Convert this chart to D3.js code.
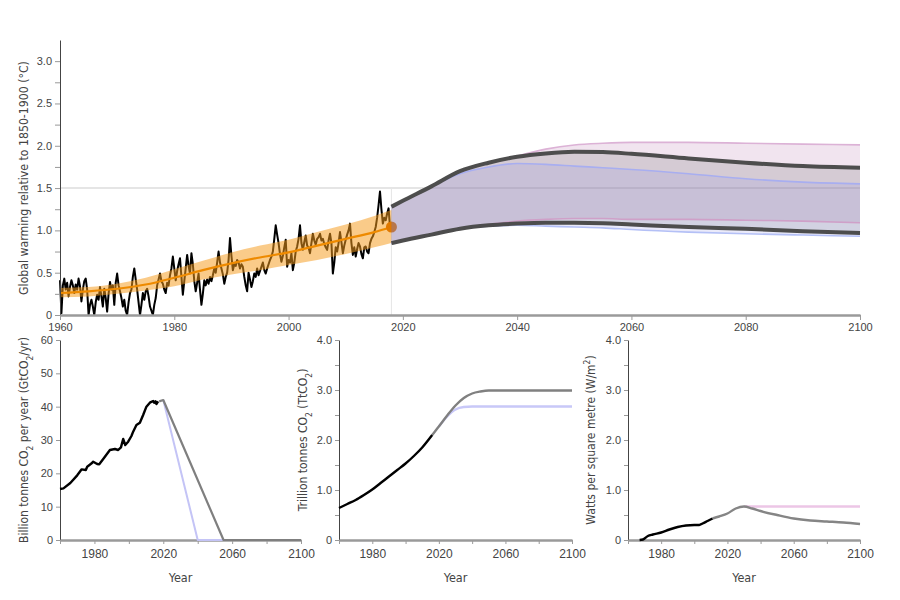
<!DOCTYPE html>
<html><head><meta charset="utf-8">
<script src="https://cdn.jsdelivr.net/npm/d3@7"></script>
<style>
body{margin:0;background:#fff}
text{font-family:"DejaVu Sans Condensed","Noto Sans",sans-serif;fill:#444}
.tick text{font-family:"Liberation Sans",Arial,sans-serif}
</style>
</head><body><svg id="c" width="900" height="600"></svg>
<script>
// ---------- DATA ----------
// observed warming, quarterly readings from 1960.00 to 2018.00 (one row per year)
const obsStart = 1960, obsStep = 0.25;
const obsTemp = [
0.41,0.02,0.35,0.43, 0.30,0.38,0.22,0.33, 0.41,0.35,0.26,0.36, 0.30,0.43,0.34,0.16, 0.30,0.40,0.43,0.30,
0.00,0.12,0.18,0.10, 0.00,0.15,0.24,0.18, 0.33,0.22,0.10,0.31, 0.20,0.04,0.25,0.39, 0.30,0.35,0.12,0.38,
0.49,0.35,0.28,0.20, 0.10,0.18,0.05,0.00, 0.15,0.26,0.30,0.45, 0.55,0.42,0.30,0.15, 0.00,0.12,0.26,0.18,
0.28,0.31,0.22,0.10, 0.05,0.00,0.12,0.20, 0.35,0.42,0.49,0.40, 0.37,0.30,0.26,0.38, 0.35,0.47,0.55,0.69,
0.55,0.41,0.52,0.60, 0.67,0.45,0.24,0.40, 0.55,0.71,0.58,0.49, 0.73,0.60,0.40,0.28, 0.38,0.49,0.30,0.12,
0.25,0.41,0.35,0.42, 0.37,0.45,0.40,0.47, 0.55,0.50,0.62,0.75, 0.62,0.55,0.48,0.37, 0.45,0.50,0.65,0.91,
0.70,0.53,0.60,0.58, 0.65,0.62,0.55,0.60, 0.57,0.45,0.35,0.28, 0.50,0.42,0.33,0.40, 0.49,0.45,0.55,0.47,
0.52,0.57,0.62,0.53, 0.49,0.55,0.60,0.65, 0.69,0.75,0.90,1.06, 0.95,0.85,0.72,0.63, 0.70,0.80,0.89,0.57,
0.65,0.62,0.73,0.53, 0.62,0.75,0.81,0.90, 1.06,0.85,0.77,0.86, 0.94,0.82,0.80,0.73, 0.85,0.96,0.88,0.83,
0.90,0.92,0.96,0.88, 0.90,0.84,0.80,0.77, 0.88,0.96,0.85,0.49, 0.62,0.80,0.75,0.85, 0.98,0.86,0.73,0.82,
0.89,0.95,1.00,1.08, 0.85,0.71,0.80,0.69, 0.78,0.85,0.81,0.72, 0.67,0.80,0.81,0.75, 0.73,0.85,0.90,0.93,
0.98,1.04,1.15,1.30, 1.46,1.25,1.08,1.15, 1.12,1.20,1.26,1.04,
1.00];

const trendYears = [1960,1965,1970,1975,1980,1985,1990,1995,2000,2005,2010,2015,2018];
const trendTemp  = [0.26,0.28,0.31,0.36,0.44,0.53,0.61,0.68,0.74,0.82,0.90,0.98,1.04];
const trendLow   = [0.21,0.22,0.25,0.29,0.34,0.42,0.48,0.53,0.59,0.65,0.72,0.80,0.85];
const trendHigh  = [0.32,0.33,0.37,0.44,0.54,0.64,0.74,0.82,0.89,0.98,1.07,1.17,1.24];

const projYears = [2018,2020,2025,2030,2035,2040,2045,2050,2055,2060,2070,2080,2090,2100];
const darkUpper = [1.28,1.35,1.52,1.70,1.80,1.87,1.91,1.93,1.925,1.905,1.85,1.80,1.76,1.74];
const darkLower = [0.85,0.88,0.95,1.02,1.06,1.08,1.09,1.09,1.085,1.07,1.04,1.02,0.99,0.97];
const pinkUpper = [1.28,1.35,1.52,1.70,1.80,1.88,1.96,2.01,2.03,2.04,2.04,2.03,2.02,2.01];
const pinkLower = [0.85,0.88,0.95,1.02,1.07,1.11,1.13,1.14,1.14,1.13,1.13,1.12,1.11,1.09];
const blueUpper = [1.28,1.35,1.52,1.67,1.75,1.79,1.78,1.76,1.74,1.72,1.67,1.61,1.57,1.55];
const blueLower = [0.85,0.88,0.95,1.02,1.05,1.06,1.05,1.04,1.03,1.01,0.98,0.96,0.945,0.93];

const emisHistYears = [1960,1962,1966,1970,1972.6,1975,1975.8,1978.4,1979.3,1981.6,1982.8,1985,1989,1991.9,1993.8,1995.4,1996.7,1997.9,1999.6,2001.5,2002.5,2004.4,2006.4,2008.3,2010.2,2012.2,2014.1,2014.7,2015.5,2016,2017];
const emisHist      = [15.3,15.5,17.1,19.4,21.2,21.0,22.0,23.0,23.5,22.8,22.7,24.2,27.0,27.3,27.0,27.8,30.3,28.5,29.5,31.2,32.5,34.5,35.2,37.5,40.0,41.2,41.7,41.2,41.6,40.8,41.6];
const emisGrayYears = [2017.6,2020,2055,2100];
const emisGray      = [41.6,42,0,0];
const emisBlueYears = [2020,2040,2055];
const emisBlue      = [42,0,0];

const cumHistYears = [1960,1965,1970,1975,1980,1985,1990,1995,2000,2005,2010,2016];
const cumHist      = [0.64,0.72,0.80,0.90,1.01,1.14,1.27,1.40,1.53,1.68,1.85,2.10];
const cumGrayYears = [2016,2020,2025,2030,2035,2040,2045,2050,2055,2100];
const cumGray      = [2.10,2.27,2.49,2.69,2.84,2.93,2.97,2.99,2.99,2.99];
const cumBlueYears = [2020,2025,2030,2035,2040,2100];
const cumBlue      = [2.27,2.47,2.61,2.66,2.67,2.67];

const forcHistYears = [1967,1969,1972,1975,1980,1985,1990,1995,2000,2003,2005,2008,2011];
const forcHist      = [0.00,0.01,0.08,0.11,0.15,0.21,0.26,0.29,0.30,0.30,0.33,0.38,0.43];
const forcGrayYears = [2011,2015,2020,2025,2030,2035,2040,2050,2060,2070,2080,2090,2100];
const forcGray      = [0.43,0.47,0.53,0.63,0.67,0.63,0.58,0.50,0.43,0.39,0.37,0.35,0.32];
const forcPinkYears = [2030,2100];
const forcPink      = [0.67,0.67];

const topXTicks = [1960,1980,2000,2020,2040,2060,2080,2100];
const botXTicks = [1960,1980,2000,2020,2040,2060,2080,2100];
const botXLabels = [1980,2020,2060,2100];

// ---------- DRAW ----------
const svg = d3.select('#c');
const zip = (a,b)=>a.map((v,i)=>[v,b[i]]);

const x = d3.scaleLinear([1960,2100],[60,860]);
const y = d3.scaleLinear([0,3.25],[315,40]);
const line = d3.line().x(d=>x(d[0])).y(d=>y(d[1]));
const smooth = d3.line().x(d=>x(d[0])).y(d=>y(d[1])).curve(d3.curveMonotoneX);

// reference lines
svg.append('line').attr('x1',x(1960)).attr('x2',x(2100)).attr('y1',y(1.5)).attr('y2',y(1.5))
  .attr('stroke','#dcdcdc').attr('stroke-width',1.5);
svg.append('line').attr('x1',x(2018)).attr('x2',x(2018)).attr('y1',y(1.5)).attr('y2',y(0))
  .attr('stroke','#e6e6e6').attr('stroke-width',1);

// observations
const obs = obsTemp.map((v,i)=>[obsStart+i*obsStep, v]);
svg.append('path').datum(obs).attr('d',line)
  .attr('fill','none').attr('stroke','#000').attr('stroke-width',2).attr('stroke-linejoin','round');

// trend band
const bandArea = d3.area().x(d=>x(d[0])).y0(d=>y(d[1])).y1(d=>y(d[2])).curve(d3.curveMonotoneX);
svg.append('path').datum(trendYears.map((t,i)=>[t,trendLow[i],trendHigh[i]])).attr('d',bandArea)
  .attr('fill','#f59b1c').attr('fill-opacity',0.52);
svg.append('path').datum(zip(trendYears,trendTemp)).attr('d',smooth)
  .attr('fill','none').attr('stroke','#ee8a00').attr('stroke-width',2.2);
svg.append('circle').attr('cx',x(2018)).attr('cy',y(trendTemp[trendTemp.length-1])).attr('r',5.5)
  .attr('fill','#e07800');

// projections
const projArea = (lo,hi)=>projYears.map((t,i)=>[t,lo[i],hi[i]]);
svg.append('path').datum(projArea(pinkLower,pinkUpper)).attr('d',bandArea)
  .attr('fill','#a24b94').attr('fill-opacity',0.15);
svg.append('path').datum(projArea(darkLower,darkUpper)).attr('d',bandArea)
  .attr('fill','#6a6a6a').attr('fill-opacity',0.2);
svg.append('path').datum(projArea(blueLower,blueUpper)).attr('d',bandArea)
  .attr('fill','#9696e6').attr('fill-opacity',0.2);
[[pinkUpper,'#dcb2d6'],[pinkLower,'#cfa0c8'],[blueUpper,'#a8aef0'],[blueLower,'#b4c0f6']].forEach(([arr,c])=>{
  svg.append('path').datum(zip(projYears,arr)).attr('d',smooth)
    .attr('fill','none').attr('stroke',c).attr('stroke-width',1.6);
});
[darkUpper,darkLower].forEach(arr=>{
  svg.append('path').datum(zip(projYears,arr)).attr('d',smooth)
    .attr('fill','none').attr('stroke','#4d4d4d').attr('stroke-width',4);
});

// axes
function styleX(fs){ return g=>{
  g.select('.domain').attr('stroke','#9a9a9a').attr('stroke-width',2.5);
  g.selectAll('.tick line').attr('stroke','#9a9a9a');
  g.selectAll('.tick text').attr('fill','#444').style('font-size',fs+'px');
};}
function styleY(fs){ return g=>{
  g.select('.domain').attr('stroke','#444').attr('stroke-width',1);
  g.selectAll('.tick line').attr('stroke','#999');
  g.selectAll('.tick text').attr('fill','#444').style('font-size',fs+'px');
};}
svg.append('g').attr('transform',`translate(60,0)`)
  .call(d3.axisLeft(y).tickValues(d3.range(0,3.01,0.25)).tickFormat(d=>d===0?'0':(Math.abs((d*2)%1)<1e-9?d.toFixed(1):'')).tickSize(5).tickSizeOuter(0))
  .call(styleY(11));
svg.append('g').attr('transform',`translate(0,315)`)
  .call(d3.axisBottom(x).tickValues(topXTicks).tickFormat(d3.format('d')).tickSize(5).tickPadding(3.3).tickSizeOuter(0))
  .call(styleX(11));

function rotLabel(cx,cy,parts,size){
  const t = svg.append('text').attr('transform',`translate(${cx},${cy}) rotate(-90)`)
    .attr('text-anchor','middle').style('font-size',size+'px');
  parts.forEach(p=>{
    const s = t.append('tspan').text(p[0]);
    if(p[1]==='sub') s.attr('baseline-shift','sub').style('font-size',(size*0.7)+'px');
    if(p[1]==='sup') s.attr('baseline-shift','super').style('font-size',(size*0.7)+'px');
  });
}
rotLabel(28,178,[['Global warming relative to 1850-1900 (°C)']],12.2);

// bottom panels
const panels = [
  {x0:60,x1:301,ymax:60,yt:d3.range(0,61,10),fmt:d=>String(d),
   label:[['Billion tonnes CO'],['2','sub'],[' per year (GtCO'],['2','sub'],['/yr)']],lx:28,
   series:[[emisBlueYears,emisBlue,'#c4c4f6',2,d3.curveLinear],[emisGrayYears,emisGray,'#7f7f7f',2.2,d3.curveLinear],[emisHistYears,emisHist,'#000',2.4,d3.curveLinear]]},
  {x0:339,x1:572,ymax:4,yt:d3.range(0,4.01,0.5),fmt:d=>d===0?'0':(d%1===0?d.toFixed(1):''),
   label:[['Trillion tonnes CO'],['2','sub'],[' (TtCO'],['2','sub'],[')']],lx:307,
   series:[[cumBlueYears,cumBlue,'#c8c8f8',2.4,d3.curveMonotoneX],[cumGrayYears,cumGray,'#808080',2.4,d3.curveMonotoneX],[cumHistYears,cumHist,'#000',2.4,d3.curveMonotoneX]]},
  {x0:628,x1:860,ymax:4,yt:d3.range(0,4.01,0.5),fmt:d=>d===0?'0':(d%1===0?d.toFixed(1):''),
   label:[['Watts per square metre (W/m'],['2','sup'],[')']],lx:595,
   series:[[forcPinkYears,forcPink,'#ecc6e6',2.4,d3.curveLinear],[forcGrayYears,forcGray,'#858585',2.4,d3.curveMonotoneX],[forcHistYears,forcHist,'#000',2.4,d3.curveMonotoneX]]}
];
panels.forEach(p=>{
  const px = d3.scaleLinear([1960,2100],[p.x0,p.x1]);
  const py = d3.scaleLinear([0,p.ymax],[540,340]);
  svg.append('g').attr('transform',`translate(${p.x0},0)`)
    .call(d3.axisLeft(py).tickValues(p.yt).tickFormat(p.fmt).tickSize(4).tickSizeOuter(0))
    .call(styleY(11));
  svg.append('g').attr('transform',`translate(0,540)`)
    .call(d3.axisBottom(px).tickValues(botXTicks).tickFormat(d=>botXLabels.includes(d)?String(d):'').tickSize(4).tickPadding(5).tickSizeOuter(0))
    .call(styleX(12));
  p.series.forEach(([xs,ys,c,w,cv])=>{
    const ln = d3.line().x(d=>px(d[0])).y(d=>py(d[1])).curve(cv);
    svg.append('path').datum(zip(xs,ys)).attr('d',ln)
      .attr('fill','none').attr('stroke',c).attr('stroke-width',w).attr('stroke-linejoin','round');
  });
  svg.append('text').attr('x',(p.x0+p.x1)/2).attr('y',582).attr('text-anchor','middle')
    .style('font-size','12.5px').text('Year');
  rotLabel(p.lx,440,p.label,12);
});
</script>
</body></html>
